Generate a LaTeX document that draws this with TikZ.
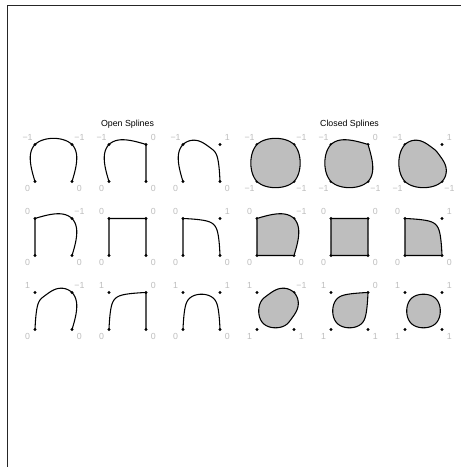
\documentclass[tikz,border=0pt]{standalone}
\usepackage{fontspec}
\setmainfont{Liberation Sans}
\definecolor{rgrey}{HTML}{BEBEBE}
\tikzset{
  curve/.style={draw=black,line width=0.8pt,line join=round},
  shut/.style={curve,fill=rgrey},
  lab/.style={text=rgrey,font=\fontsize{6.6}{7}\selectfont,inner sep=0pt,anchor=center},
  ttl/.style={font=\fontsize{6.6}{8}\selectfont,inner sep=0pt,anchor=base},
  frameline/.style={draw=black!85,line width=0.9pt}
}
% X-spline weights (Blanc & Schlick, as in R's xspline.c)
\newcommand\xsweights[2]{%
  \ifdim #1pt<0pt
    \def\wA{xsh(-\xst,-(#1))}\def\wC{xsg(\xst,-(#1))}%
  \else
    \def\wA{((\xst<#1)?xsf(\xst-(#1),-1-(#1)):0)}\def\wC{xsf(\xst+(#1),1+(#1))}%
  \fi
  \ifdim #2pt<0pt
    \def\wB{xsg(1-\xst,-(#2))}\def\wD{xsh(\xst-1,-(#2))}%
  \else
    \def\wB{xsf(\xst-1-(#2),-1-(#2))}\def\wD{((\xst>1-(#2))?xsf(\xst-1+(#2),1+(#2)):0)}%
  \fi}
\newcommand\xsaddpt[2]{%
  \ifx\XSpath\empty\xdef\XSpath{(#1,#2)}\else\xdef\XSpath{\XSpath -- (#1,#2)}\fi}
\newcommand\xsseg[6]{%
  \xsweights{#5}{#6}%
  \foreach \xsi in {0,...,19}{%
    \pgfmathsetmacro\xst{\xsi/20}%
    \pgfmathsetmacro\xwa{\wA}%
    \pgfmathsetmacro\xwb{\wB}%
    \pgfmathsetmacro\xwc{\wC}%
    \pgfmathsetmacro\xwd{\wD}%
    \pgfmathsetmacro\xws{\xwa+\xwb+\xwc+\xwd}%
    \pgfmathsetmacro\xsX{(\xwa*\csname p#1x\endcsname+\xwb*\csname p#2x\endcsname+\xwc*\csname p#3x\endcsname+\xwd*\csname p#4x\endcsname)/\xws}%
    \pgfmathsetmacro\xsY{(\xwa*\csname p#1y\endcsname+\xwb*\csname p#2y\endcsname+\xwc*\csname p#3y\endcsname+\xwd*\csname p#4y\endcsname)/\xws}%
    \xsaddpt{\xsX}{\xsY}%
  }}
\newcommand\xsnum[1]{\ifnum#1<0 −1\else#1\fi}
% #1 x, #2 y of top-left point; #3..#6 shapes of BL, TL, TR, BR; #7 o=open, c=closed
\newcommand\xspanel[7]{%
  \pgfmathsetmacro\pAx{#1}\pgfmathsetmacro\pAy{#2+37}%
  \pgfmathsetmacro\pBx{#1}\pgfmathsetmacro\pBy{#2}%
  \pgfmathsetmacro\pCx{#1+37}\pgfmathsetmacro\pCy{#2}%
  \pgfmathsetmacro\pDx{#1+37}\pgfmathsetmacro\pDy{#2+37}%
  \foreach \q in {A,B,C,D}{\fill (\csname p\q x\endcsname,\csname p\q y\endcsname) circle[radius=1.7];}%
  \gdef\XSpath{}%
  \if o#7
    \xsseg{A}{A}{B}{C}{#3}{#4}%
    \xsseg{A}{B}{C}{D}{#4}{#5}%
    \xsseg{B}{C}{D}{D}{#5}{#6}%
    \xsaddpt{\pDx}{\pDy}%
    \draw[curve] \XSpath;%
  \else
    \xsseg{D}{A}{B}{C}{#3}{#4}%
    \xsseg{A}{B}{C}{D}{#4}{#5}%
    \xsseg{B}{C}{D}{A}{#5}{#6}%
    \xsseg{C}{D}{A}{B}{#6}{#3}%
    \filldraw[shut] \XSpath -- cycle;%
  \fi
  \node[lab] at (\pAx-7.4,\pAy+7.4) {\xsnum{#3}};%
  \node[lab] at (\pBx-7.4,\pBy-7.4) {\xsnum{#4}};%
  \node[lab] at (\pCx+7.4,\pCy-7.4) {\xsnum{#5}};%
  \node[lab] at (\pDx+7.4,\pDy+7.4) {\xsnum{#6}};%
}
\begin{document}
\begin{tikzpicture}[x=0.75pt,y=-0.75pt,
  declare function={
    xsfu(\fu,\fp)=(\fu)*(\fu)*(\fu)*(10-(\fp)+(2*(\fp)-15)*(\fu)+(6-(\fp))*(\fu)*(\fu));
    xsf(\fa,\fb)=xsfu((\fa)/(\fb),2*(\fb)*(\fb));
    xsg(\fu,\fq)=(\fu)*((\fq)+(\fu)*(2*(\fq)+(\fu)*(8-12*(\fq)+(\fu)*(14*(\fq)-11+(\fu)*(4-5*(\fq))))));
    xsh(\fu,\fq)=(\fu)*((\fq)+(\fu)*(2*(\fq)+(\fu)*(\fu)*(-2*(\fq)-(\fu)*(\fq))));
  }]
\useasboundingbox (0,0) rectangle (461,467);
\fill[white] (0,0) rectangle (461,467);
\draw[frameline] (7.8,467) -- (7.8,5.6) -- (461,5.6);
\node[ttl] (open) at (127.5,126.3) {Open Splines};
\node[ttl] (closed) at (349.5,126.3) {Closed Splines};
% open splines
\xspanel{35}{144.5}{0}{-1}{-1}{0}{o}
\xspanel{109}{144.5}{0}{-1}{0}{0}{o}
\xspanel{183}{144.5}{0}{-1}{1}{0}{o}
\xspanel{35}{218.5}{0}{0}{-1}{0}{o}
\xspanel{109}{218.5}{0}{0}{0}{0}{o}
\xspanel{183}{218.5}{0}{0}{1}{0}{o}
\xspanel{35}{292.5}{0}{1}{-1}{0}{o}
\xspanel{109}{292.5}{0}{1}{0}{0}{o}
\xspanel{183}{292.5}{0}{1}{1}{0}{o}
% closed splines
\xspanel{257}{144.5}{-1}{-1}{-1}{-1}{c}
\xspanel{331}{144.5}{-1}{-1}{0}{-1}{c}
\xspanel{405}{144.5}{-1}{-1}{1}{-1}{c}
\xspanel{257}{218.5}{0}{0}{-1}{0}{c}
\xspanel{331}{218.5}{0}{0}{0}{0}{c}
\xspanel{405}{218.5}{0}{0}{1}{0}{c}
\xspanel{257}{292.5}{1}{1}{-1}{1}{c}
\xspanel{331}{292.5}{1}{1}{0}{1}{c}
\xspanel{405}{292.5}{1}{1}{1}{1}{c}
\end{tikzpicture}
\end{document}
